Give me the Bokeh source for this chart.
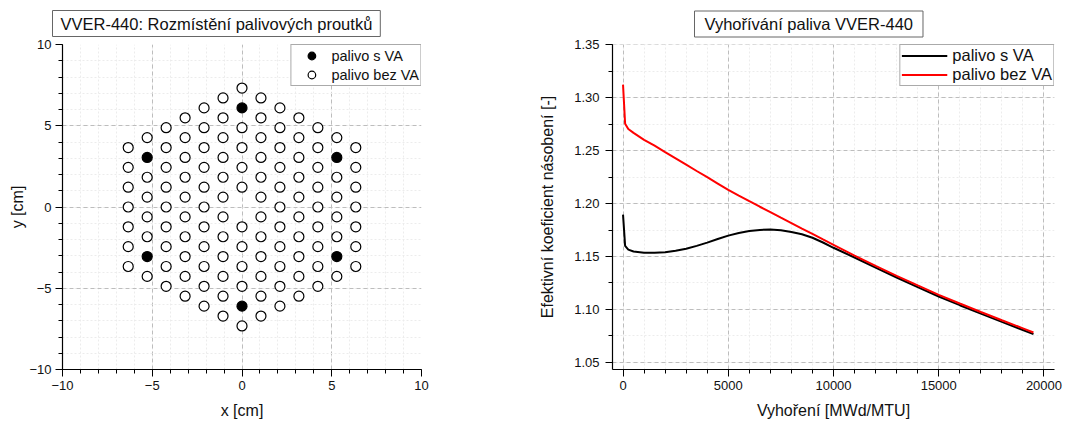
import math
from bokeh.plotting import figure
from bokeh.layouts import row
from bokeh.models import Legend, LegendItem, FixedTicker, Range1d, PrintfTickFormatter
from bokeh.embed import file_html
from bokeh.resources import INLINE

FONT = "Liberation Sans"

# ---------------- left panel: VVER-440 fuel assembly lattice ----------------
pitch_cm = 1.22
column_index = [-6, -5, -4, -3, -2, -1, 0, 1, 2, 3, 4, 5, 6]
rods_per_column = [7, 8, 9, 10, 11, 12, 13, 12, 11, 10, 9, 8, 7]
central_tube = (0, 6)                      # (column, position) - no fuel
va_rods = [(0, 11), (0, 1), (-5, 6), (-5, 1), (5, 6), (5, 1)]  # fuel with absorber

# ---------------- right panel: burnup curves ----------------
burnup = [0, 100, 250, 500, 1000, 1500, 2000, 2500, 3000, 3500, 4000, 4500,
          5000, 5500, 6000, 6500, 7000, 7500, 8000, 8500, 9000, 9500, 10000,
          11000, 12000, 13000, 14000, 15000, 16000, 17000, 18000, 19000, 19500]
k_s_va = [1.1896, 1.1600, 1.1565, 1.1547, 1.1535, 1.1534, 1.1539, 1.1553,
          1.1573, 1.1600, 1.1631, 1.1665, 1.1697, 1.1722, 1.1740, 1.1751,
          1.1755, 1.1748, 1.1732, 1.1710, 1.1677, 1.1632, 1.1582,
          1.1490, 1.1394, 1.1301, 1.1210, 1.1121, 1.1039, 1.0959, 1.0881,
          1.0804, 1.0765]
k_bez_va = [1.3125, 1.2755, 1.2705, 1.2668, 1.2603, 1.2547, 1.2487, 1.2428,
            1.2368, 1.2308, 1.2249, 1.2189, 1.2129, 1.2075, 1.2022, 1.1970,
            1.1919, 1.1867, 1.1816, 1.1764, 1.1713, 1.1661, 1.1610,
            1.1508, 1.1410, 1.1317, 1.1226, 1.1137, 1.1055, 1.0975, 1.0897,
            1.0820, 1.0781]

x_ticks_left = [-10, -5, 0, 5, 10]
y_ticks_left = [-10, -5, 0, 5, 10]
x_ticks_right = [0, 5000, 10000, 15000, 20000]
y_ticks_right = [1.05, 1.10, 1.15, 1.20, 1.25, 1.30, 1.35]

# build rod coordinates from the lattice description
col_step = pitch_cm * math.sqrt(3) / 2
xs_open, ys_open, xs_va, ys_va = [], [], [], []
for c, n in zip(column_index, rods_per_column):
    for j in range(n):
        if (c, j) == central_tube:
            continue
        x = c * col_step
        y = (j - (n - 1) / 2) * pitch_cm
        if (c, j) in va_rods:
            xs_va.append(x); ys_va.append(y)
        else:
            xs_open.append(x); ys_open.append(y)


def style(p, hpad):
    p.outline_line_color = None
    p.background_fill_color = "white"
    p.border_fill_color = "white"
    for ax in p.axis:
        ax.axis_line_color = "black"
        ax.axis_line_width = 1.2
        ax.major_tick_line_color = "black"
        ax.minor_tick_line_color = "black"
        ax.major_tick_in = 0
        ax.major_tick_out = 7
        ax.minor_tick_in = 0
        ax.minor_tick_out = 4
        ax.major_label_text_font = FONT
        ax.major_label_text_font_size = "13px"
        ax.major_label_text_color = "#111111"
        ax.major_label_standoff = 4
        ax.axis_label_text_font = FONT
        ax.axis_label_text_font_size = "16px"
        ax.axis_label_text_font_style = "normal"
        ax.axis_label_text_color = "#111111"
    for g in (p.xgrid, p.ygrid):
        g.grid_line_color = "#bdbdbd"
        g.grid_line_dash = "4 3"
        g.grid_line_width = 1
        g.minor_grid_line_color = "#ececec"
        g.minor_grid_line_dash = "2 2"
    t = p.title
    t.text_font = FONT
    t.text_font_size = "16.5px"
    t.text_font_style = "normal"
    t.text_color = "#111111"
    t.align = "left"
    props = t.properties()
    if "border_line_color" in props:
        t.border_line_color = "#666666"
        t.background_fill_color = "white"
    if "padding" in props:
        t.padding = dict(left=hpad, right=hpad, top=4, bottom=4)


# ---------------- left figure ----------------
p1 = figure(width=520, height=423, title="VVER-440: Rozmístění palivových proutků",
            x_range=Range1d(-10, 10), y_range=Range1d(-10, 10),
            output_backend="svg", toolbar_location=None,
            min_border_left=62, min_border_right=99, min_border_top=44, min_border_bottom=54)
style(p1, 8)
p1.title.offset = -10
p1.title.standoff = 16
p1.xaxis.ticker = FixedTicker(ticks=x_ticks_left, minor_ticks=list(range(-10, 11)))
p1.yaxis.ticker = FixedTicker(ticks=y_ticks_left, minor_ticks=list(range(-10, 11)))
p1.xaxis.axis_label = "x [cm]"
p1.yaxis.axis_label = "y [cm]"
p1.xaxis.axis_label_standoff = 9
p1.yaxis.axis_label_standoff = 0

r_va = p1.scatter(xs_va, ys_va, marker="circle", size=10, fill_color="black",
                  line_color="black", line_width=1.2)
r_open = p1.scatter(xs_open, ys_open, marker="circle", size=10, fill_color="white",
                    line_color="black", line_width=1.2)
leg1 = Legend(items=[LegendItem(label="palivo s VA", renderers=[r_va]),
                     LegendItem(label="palivo bez VA", renderers=[r_open])],
              location="top_right", margin=0, padding=1, spacing=0,
              glyph_width=38, glyph_height=19, label_height=19, label_standoff=1,
              label_text_font=FONT, label_text_font_size="14.5px",
              label_text_color="#111111",
              border_line_color="#555555", border_line_width=1,
              background_fill_color="white", background_fill_alpha=1)
p1.add_layout(leg1)

# ---------------- right figure ----------------
p2 = figure(width=545, height=423, title="Vyhořívání paliva VVER-440",
            x_range=Range1d(-500, 20500), y_range=Range1d(1.0431, 1.3504),
            output_backend="svg", toolbar_location=None,
            min_border_left=92, min_border_right=11, min_border_top=44, min_border_bottom=54)
style(p2, 10)
p2.title.offset = 82
p2.title.standoff = 15
p2.xaxis.ticker = FixedTicker(ticks=x_ticks_right,
                              minor_ticks=list(range(0, 20001, 1000)))
p2.yaxis.ticker = FixedTicker(ticks=y_ticks_right,
                              minor_ticks=[1.05 + 0.025 * i for i in range(13)])
p2.yaxis.formatter = PrintfTickFormatter(format="%.2f")
p2.xaxis.axis_label = "Vyhoření [MWd/MTU]"
p2.yaxis.axis_label = "Efektivní koeficient násobení [-]"
p2.yaxis.major_label_standoff = 6
p2.xaxis.axis_label_standoff = 9
p2.yaxis.axis_label_standoff = 15

l_va = p2.line(burnup, k_s_va, line_color="black", line_width=2)
l_bez = p2.line(burnup, k_bez_va, line_color="#ff0000", line_width=2)
leg2 = Legend(items=[LegendItem(label="palivo s VA", renderers=[l_va]),
                     LegendItem(label="palivo bez VA", renderers=[l_bez])],
              location="top_right", margin=0, padding=1, spacing=0,
              glyph_width=46, glyph_height=19, label_height=19, label_standoff=5,
              label_text_font=FONT, label_text_font_size="16.5px",
              label_text_color="#111111",
              border_line_color="#555555", border_line_width=1,
              background_fill_color="white", background_fill_alpha=1)
p2.add_layout(leg2)

layout = row(p1, p2)
open("out.html", "w").write(file_html(layout, INLINE))
